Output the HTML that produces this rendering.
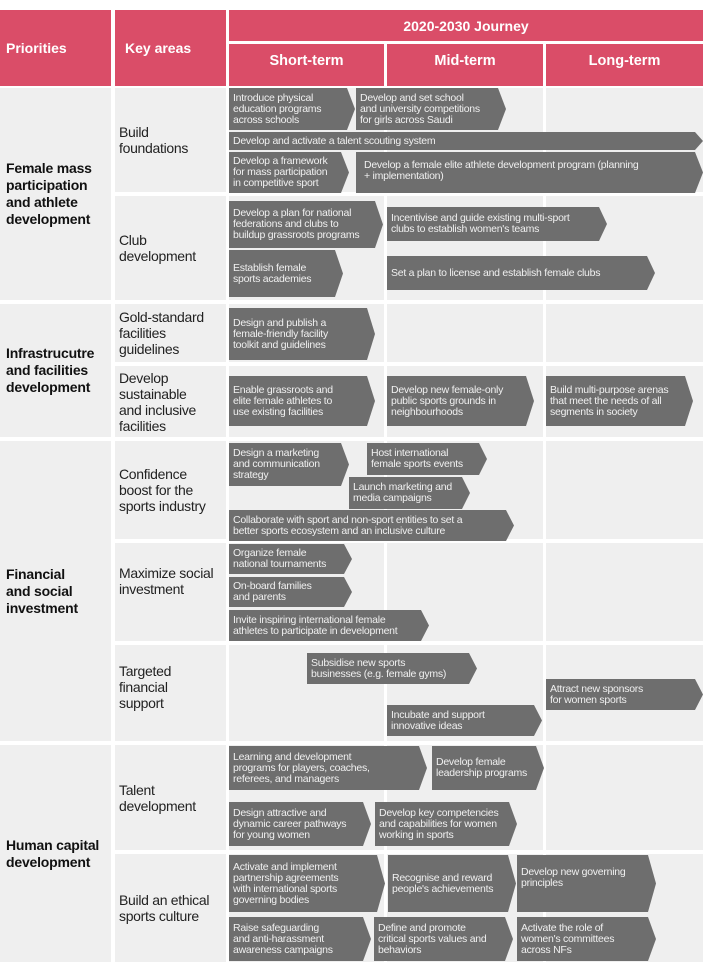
<!DOCTYPE html>
<html><head><meta charset="utf-8"><style>
body{margin:0;width:703px;height:964px;background:#fff;position:relative;overflow:hidden;font-family:"Liberation Sans",Arial,sans-serif}
div{position:absolute;box-sizing:border-box}
.h{background:#da4d68;color:#fff;font-weight:bold;font-size:14px;display:flex;align-items:center}
.c{background:#efefef}
.p{font-weight:bold;font-size:14px;line-height:17px;color:#111;display:flex;align-items:center;padding-left:6px;letter-spacing:-0.2px}
.k{font-size:14px;line-height:16px;color:#222;display:flex;align-items:center;padding-left:4px;letter-spacing:-0.3px}
.a{background:#6e6e6e;color:#f0f0f0;font-size:10.5px;line-height:11px;letter-spacing:-0.25px;white-space:nowrap;display:flex;align-items:center;padding:0 12px 0 4px;clip-path:polygon(0 0,calc(100% - 8px) 0,100% 50%,calc(100% - 8px) 100%,0 100%)}
</style></head><body>
<div class="h" style="left:0;top:10px;width:111px;height:76px;padding-left:6px">Priorities</div>
<div class="h" style="left:115px;top:10px;width:111px;height:76px;padding-left:10px">Key areas</div>
<div class="h" style="left:229px;top:10px;width:474px;height:31px;justify-content:center">2020-2030 Journey</div>
<div class="h" style="left:229px;top:44px;width:155px;height:42px;justify-content:center;align-items:flex-start;padding-top:9px;font-size:14.5px">Short-term</div>
<div class="h" style="left:387px;top:44px;width:156px;height:42px;justify-content:center;align-items:flex-start;padding-top:9px;font-size:14.5px">Mid-term</div>
<div class="h" style="left:546px;top:44px;width:157px;height:42px;justify-content:center;align-items:flex-start;padding-top:9px;font-size:14.5px">Long-term</div>

<div class="c p" style="left:0;top:88px;width:111px;height:212px">Female mass<br>participation<br>and athlete<br>development</div>
<div class="c p" style="left:0;top:304px;width:111px;height:133px">Infrastrucutre<br>and facilities<br>development</div>
<div class="c p" style="left:0;top:441px;width:111px;height:300px">Financial<br>and social<br>investment</div>
<div class="c p" style="left:0;top:745px;width:111px;height:217px">Human capital<br>development</div>

<div class="c k" style="left:115px;top:88px;width:111px;height:104px">Build<br>foundations</div>
<div class="c" style="left:229px;top:88px;width:155px;height:104px"></div><div class="c" style="left:387px;top:88px;width:156px;height:104px"></div><div class="c" style="left:546px;top:88px;width:157px;height:104px"></div>
<div class="c k" style="left:115px;top:196px;width:111px;height:104px">Club<br>development</div>
<div class="c" style="left:229px;top:196px;width:155px;height:104px"></div><div class="c" style="left:387px;top:196px;width:156px;height:104px"></div><div class="c" style="left:546px;top:196px;width:157px;height:104px"></div>
<div class="c k" style="left:115px;top:304px;width:111px;height:58px">Gold-standard<br>facilities<br>guidelines</div>
<div class="c" style="left:229px;top:304px;width:155px;height:58px"></div><div class="c" style="left:387px;top:304px;width:156px;height:58px"></div><div class="c" style="left:546px;top:304px;width:157px;height:58px"></div>
<div class="c k" style="left:115px;top:366px;width:111px;height:71px">Develop<br>sustainable<br>and inclusive<br>facilities</div>
<div class="c" style="left:229px;top:366px;width:155px;height:71px"></div><div class="c" style="left:387px;top:366px;width:156px;height:71px"></div><div class="c" style="left:546px;top:366px;width:157px;height:71px"></div>
<div class="c k" style="left:115px;top:441px;width:111px;height:98px">Confidence<br>boost for the<br>sports industry</div>
<div class="c" style="left:229px;top:441px;width:155px;height:98px"></div><div class="c" style="left:387px;top:441px;width:156px;height:98px"></div><div class="c" style="left:546px;top:441px;width:157px;height:98px"></div>
<div class="c k" style="left:115px;top:543px;width:111px;height:98px;align-items:flex-start;padding-top:22px">Maximize social<br>investment</div>
<div class="c" style="left:229px;top:543px;width:155px;height:98px"></div><div class="c" style="left:387px;top:543px;width:156px;height:98px"></div><div class="c" style="left:546px;top:543px;width:157px;height:98px"></div>
<div class="c k" style="left:115px;top:645px;width:111px;height:96px;align-items:flex-start;padding-top:18px">Targeted<br>financial<br>support</div>
<div class="c" style="left:229px;top:645px;width:155px;height:96px"></div><div class="c" style="left:387px;top:645px;width:156px;height:96px"></div><div class="c" style="left:546px;top:645px;width:157px;height:96px"></div>
<div class="c k" style="left:115px;top:745px;width:111px;height:105px">Talent<br>development</div>
<div class="c" style="left:229px;top:745px;width:155px;height:105px"></div><div class="c" style="left:387px;top:745px;width:156px;height:105px"></div><div class="c" style="left:546px;top:745px;width:157px;height:105px"></div>
<div class="c k" style="left:115px;top:854px;width:111px;height:108px">Build an ethical<br>sports culture</div>
<div class="c" style="left:229px;top:854px;width:155px;height:108px"></div><div class="c" style="left:387px;top:854px;width:156px;height:108px"></div><div class="c" style="left:546px;top:854px;width:157px;height:108px"></div>

<div class="a" style="left:229px;top:88px;width:126px;height:42px">Introduce physical<br>education programs<br>across schools</div>
<div class="a" style="left:356px;top:88px;width:150px;height:42px">Develop and set school<br>and university competitions<br>for girls across Saudi</div>
<div class="a" style="left:229px;top:132px;width:474px;height:18px">Develop and activate a talent scouting system</div>
<div class="a" style="left:229px;top:152px;width:120px;height:41px">Develop a framework<br>for mass participation<br>in competitive sport</div>
<div class="a" style="left:356px;top:152px;width:347px;height:41px;align-items:flex-start;padding-top:8px;padding-left:8px">Develop a female elite athlete development program (planning<br>+ implementation)</div>
<div class="a" style="left:229px;top:201px;width:154px;height:47px">Develop a plan for national<br>federations and clubs to<br>buildup grassroots programs</div>
<div class="a" style="left:387px;top:207px;width:220px;height:34px">Incentivise and guide existing multi-sport<br>clubs to establish women's teams</div>
<div class="a" style="left:229px;top:250px;width:114px;height:47px">Establish female<br>sports academies</div>
<div class="a" style="left:387px;top:256px;width:268px;height:34px">Set a plan to license and establish female clubs</div>
<div class="a" style="left:229px;top:308px;width:146px;height:52px">Design and publish a<br>female-friendly facility<br>toolkit and guidelines</div>
<div class="a" style="left:229px;top:376px;width:146px;height:50px">Enable grassroots and<br>elite female athletes to<br>use existing facilities</div>
<div class="a" style="left:387px;top:376px;width:147px;height:50px">Develop new female-only<br>public sports grounds in<br>neighbourhoods</div>
<div class="a" style="left:546px;top:376px;width:147px;height:50px">Build multi-purpose arenas<br>that meet the needs of all<br>segments in society</div>
<div class="a" style="left:229px;top:443px;width:120px;height:43px">Design a marketing<br>and communication<br>strategy</div>
<div class="a" style="left:367px;top:443px;width:120px;height:32px">Host international<br>female sports events</div>
<div class="a" style="left:349px;top:477px;width:121px;height:32px">Launch marketing and<br>media campaigns</div>
<div class="a" style="left:229px;top:510px;width:285px;height:31px">Collaborate with sport and non-sport entities to set a<br>better sports ecosystem and an inclusive culture</div>
<div class="a" style="left:229px;top:544px;width:123px;height:30px">Organize female<br>national tournaments</div>
<div class="a" style="left:229px;top:577px;width:123px;height:30px">On-board families<br>and parents</div>
<div class="a" style="left:229px;top:610px;width:200px;height:31px">Invite inspiring international female<br>athletes to participate in development</div>
<div class="a" style="left:307px;top:653px;width:170px;height:31px">Subsidise new sports<br>businesses (e.g. female gyms)</div>
<div class="a" style="left:546px;top:679px;width:157px;height:31px">Attract new sponsors<br>for women sports</div>
<div class="a" style="left:387px;top:705px;width:155px;height:31px">Incubate and support<br>innovative ideas</div>
<div class="a" style="left:229px;top:746px;width:198px;height:44px">Learning and development<br>programs for players, coaches,<br>referees, and managers</div>
<div class="a" style="left:432px;top:746px;width:112px;height:44px">Develop female<br>leadership programs</div>
<div class="a" style="left:229px;top:802px;width:142px;height:44px">Design attractive and<br>dynamic career pathways<br>for young women</div>
<div class="a" style="left:375px;top:802px;width:142px;height:44px">Develop key competencies<br>and capabilities for women<br>working in sports</div>
<div class="a" style="left:229px;top:855px;width:156px;height:57px">Activate and implement<br>partnership agreements<br>with international sports<br>governing bodies</div>
<div class="a" style="left:388px;top:855px;width:128px;height:57px">Recognise and reward<br>people's achievements</div>
<div class="a" style="left:517px;top:855px;width:139px;height:57px;align-items:flex-start;padding-top:12px">Develop new governing<br>principles</div>
<div class="a" style="left:229px;top:917px;width:142px;height:44px">Raise safeguarding<br>and anti-harassment<br>awareness campaigns</div>
<div class="a" style="left:374px;top:917px;width:139px;height:44px">Define and promote<br>critical sports values and<br>behaviors</div>
<div class="a" style="left:517px;top:917px;width:139px;height:44px">Activate the role of<br>women's committees<br>across NFs</div>
</body></html>
